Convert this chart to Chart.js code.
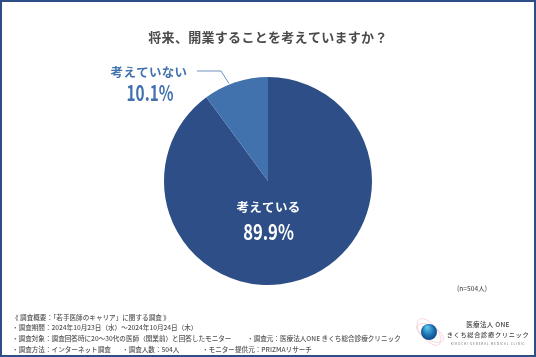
<!DOCTYPE html>
<html lang="ja">
<head>
<meta charset="utf-8">
<title>将来、開業することを考えていますか？</title>
<script src="https://cdn.jsdelivr.net/npm/chart.js@4"></script>
<style>
    html, body { margin: 0; padding: 0; background: #fff; overflow: hidden; }
    #wrap { position: relative; width: 536px; height: 357px; }
</style>
</head>
<body>
<div id="wrap"><canvas id="chart"></canvas></div>
<script>
const categories = ['考えている', '考えていない'];
const values = [89.9, 10.1];
const sliceColors = ['#2d4e87', '#4272ad'];
const titleText = '将来、開業することを考えていますか？';
const noteLines = [
    '《 調査概要：「若手医師のキャリア」に関する調査 》',
    '・調査期間：2024年10月23日（水）～2024年10月24日（木）',
    '・調査対象：調査回答時に20～30代の医師（開業前）と回答したモニター',
    '・調査方法：インターネット調査'
];

const JP = '"Noto Sans CJK JP", "Noto Sans", sans-serif';

function put(ctx, text, x, y, font, color, align, spacing) {
    ctx.font = font + ' ' + JP;
    ctx.fillStyle = color;
    ctx.textAlign = align || 'left';
    ctx.textBaseline = 'middle';
    ctx.letterSpacing = spacing || '0px';
    ctx.fillText(text, x, y);
    ctx.letterSpacing = '0px';
}

// The percent figures are condensed in the original, so squeeze them horizontally
function putNarrow(ctx, text, x, y, font, color, squeeze) {
    ctx.save();
    ctx.translate(x, y);
    ctx.scale(squeeze, 1);
    put(ctx, text, 0, 0, font, color, 'center');
    ctx.restore();
}

// Frame, titles, labels, survey notes and the clinic logo
const decorPlugin = {
    id: 'decor',
    afterDraw: function (chart) {
        const ctx = chart.ctx;
        const arc = chart.getDatasetMeta(0).data[0];
        const cx = arc.x;
        const cy = arc.y;
        const r = arc.outerRadius;
        const a = Math.PI * 2 * values[1] / 200;

        ctx.save();
        ctx.strokeStyle = '#2d4e87';
        ctx.lineWidth = 2;
        ctx.strokeRect(1, 1, 534, 355);

        put(ctx, titleText, 268, 37, '700 13px', '#4a4a4a', 'center', '0.3px');

        // leader line to the small slice
        ctx.strokeStyle = '#6f90bd';
        ctx.lineWidth = 1;
        ctx.beginPath();
        ctx.moveTo(197, 71);
        ctx.lineTo(221, 71);
        ctx.lineTo(cx - Math.sin(a * 1.2) * (r + 1), cy - Math.cos(a * 1.2) * (r + 1));
        ctx.stroke();

        put(ctx, categories[1], 149, 72, '700 12.5px', sliceColors[1], 'center', '0.3px');
        putNarrow(ctx, values[1] + '%', 150, 93, '700 21px', sliceColors[1], 0.73);
        put(ctx, categories[0], 268.5, 207, '700 12.5px', '#ffffff', 'center', '0.3px');
        putNarrow(ctx, values[0] + '%', 268.5, 232, '700 21px', '#ffffff', 0.79);

        put(ctx, '(n=504人)', 472, 289, '500 6.5px', '#555555', 'center');

        const noteFont = '500 6.6px';
        put(ctx, noteLines[0], 12, 317, noteFont, '#555555');
        put(ctx, noteLines[1], 12, 327, noteFont, '#555555');
        put(ctx, noteLines[2], 12, 338, noteFont, '#555555');
        put(ctx, '・調査元：医療法人ONE きくち総合診療クリニック', 247, 338, noteFont, '#555555');
        put(ctx, noteLines[3], 12, 349, noteFont, '#555555');
        put(ctx, '・調査人数：504人', 122, 349, noteFont, '#555555');
        put(ctx, '・モニター提供元：PRIZMAリサーチ', 202, 349, noteFont, '#555555');

        // logo
        ctx.strokeStyle = '#f3c6d2';
        ctx.lineWidth = 0.7;
        ctx.beginPath();
        ctx.ellipse(429, 332, 8, 16, -0.7, 0, Math.PI * 2);
        ctx.stroke();
        ctx.beginPath();
        ctx.ellipse(430, 333, 15, 7, 0.5, 0, Math.PI * 2);
        ctx.stroke();
        const g = ctx.createRadialGradient(427, 327, 1, 429, 332, 9);
        g.addColorStop(0, '#5fc0e8');
        g.addColorStop(0.6, '#1a6fb0');
        g.addColorStop(1, '#0d3f78');
        ctx.fillStyle = g;
        ctx.beginPath();
        ctx.arc(429, 332, 8, 0, Math.PI * 2);
        ctx.fill();

        put(ctx, '医療法人 ONE', 488, 325, '500 6.5px', '#444444', 'center', '0.3px');
        put(ctx, 'きくち総合診療クリニック', 488, 335, '500 6.2px', '#444444', 'center', '0.7px');
        put(ctx, 'KIKUCHI GENERAL MEDICAL CLINIC', 488, 344, '400 3.2px', '#777777', 'center', '0.75px');
        ctx.restore();
    }
};

new Chart(document.getElementById('chart'), {
    type: 'pie',
    data: {
        labels: categories,
        datasets: [{
            data: values,
            backgroundColor: sliceColors,
            borderWidth: 0
        }]
    },
    options: {
        responsive: true,
        maintainAspectRatio: false,
        animation: false,
        layout: { padding: { top: 77, bottom: 72, left: 0, right: 0 } },
        plugins: {
            legend: { display: false },
            tooltip: { enabled: false }
        }
    },
    plugins: [decorPlugin]
});
</script>
</body>
</html>
